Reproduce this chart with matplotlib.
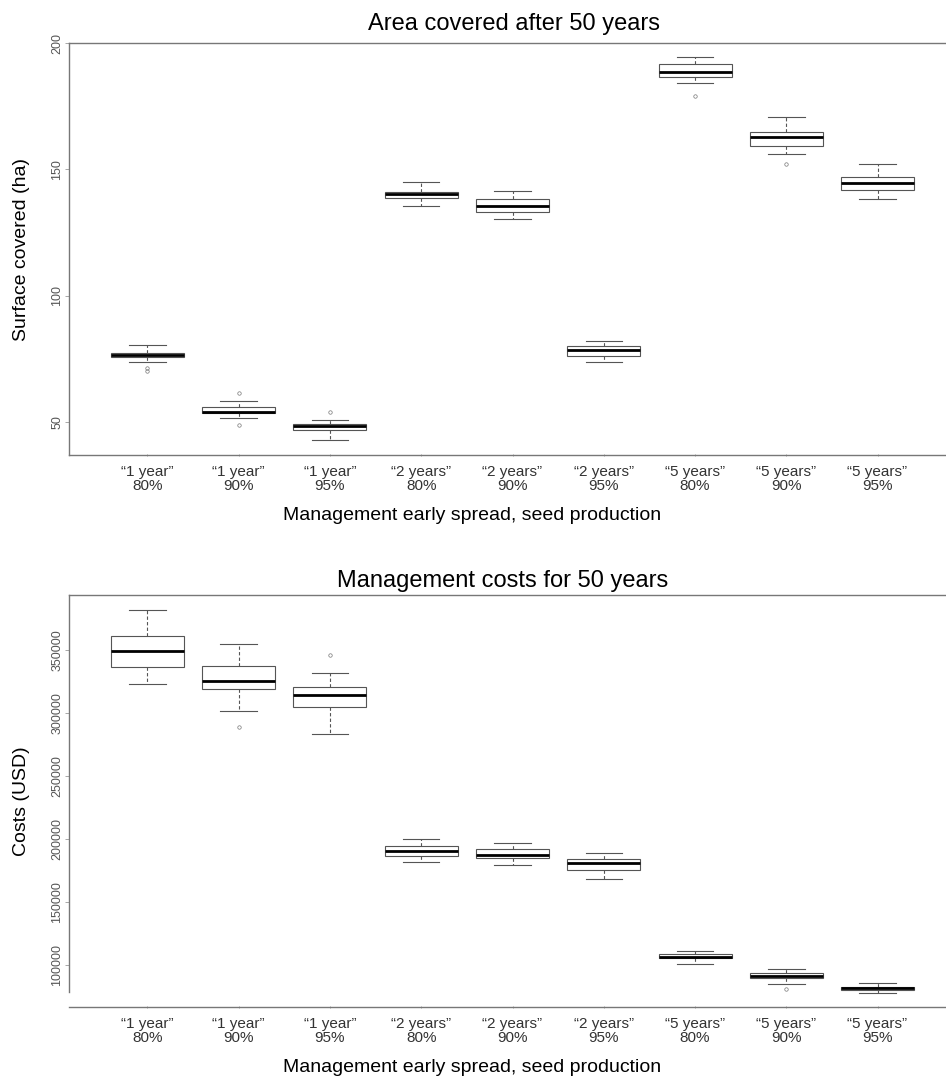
import matplotlib
matplotlib.use("Agg")
import matplotlib.pyplot as plt

plt.rcParams['font.family'] = ['Liberation Sans', 'DejaVu Sans']

# group labels (management duration, seed production reduction)
groups = ['“1 year”\n80%', '“1 year”\n90%', '“1 year”\n95%',
          '“2 years”\n80%', '“2 years”\n90%', '“2 years”\n95%',
          '“5 years”\n80%', '“5 years”\n90%', '“5 years”\n95%']

# area covered after 50 years (ha), five number summaries
area_lo = [73.9, 51.5, 42.9, 135.5, 130.3, 73.9, 184.0, 155.9, 138.1]
area_q1 = [75.8, 53.4, 46.8, 138.5, 133.2, 76.1, 186.6, 159.2, 141.8]
area_med = [76.6, 54.1, 48.3, 140.2, 135.6, 78.5, 188.4, 162.9, 144.7]
area_q3 = [77.4, 55.8, 49.1, 141.1, 138.1, 80.2, 191.7, 164.9, 147.1]
area_hi = [80.5, 58.4, 50.8, 145.1, 141.5, 82.2, 194.6, 170.8, 152.1]
area_out = [[70.0, 71.5], [48.8, 61.5], [54.1], [], [], [], [179.0], [152.1], []]

# management costs for 50 years (USD)
cost_lo = [322800, 301800, 283100, 181700, 179400, 168300, 100800, 85300, 78200]
cost_q1 = [336700, 318800, 305000, 186500, 185300, 175400, 105200, 89700, 80200]
cost_med = [349200, 325400, 314300, 190500, 187700, 181000, 106700, 91300, 81700]
cost_q3 = [361100, 337300, 320900, 194400, 192100, 184100, 109100, 93700, 82900]
cost_hi = [381700, 354800, 331500, 200000, 196800, 189300, 111100, 96800, 86100]
cost_out = [[], [289100], [346000], [], [], [], [], [81000], []]


def make_stats(lo, q1, med, q3, hi, out):
    stats = []
    for i in range(len(groups)):
        stats.append(dict(whislo=lo[i], q1=q1[i], med=med[i], q3=q3[i],
                          whishi=hi[i], fliers=out[i]))
    return stats


def draw_panel(ax, stats, title, title_x, title_pad, ylabel, yticks, ylim):
    ax.bxp(stats, positions=range(1, len(groups) + 1), widths=0.8,
           patch_artist=True, shownotches=False,
           boxprops=dict(facecolor='white', edgecolor='#555555', linewidth=0.8),
           medianprops=dict(color='black', linewidth=2.0),
           whiskerprops=dict(color='#555555', linewidth=0.8, linestyle=(0, (3, 2))),
           capprops=dict(color='#555555', linewidth=0.8),
           capwidths=0.4,
           flierprops=dict(marker='o', markersize=2.5, markerfacecolor='none',
                           markeredgecolor='#777777', markeredgewidth=0.5))
    ax.set_xlim(0.14, 9.86)
    ax.set_ylim(*ylim)
    ax.set_xticks(range(1, len(groups) + 1))
    ax.set_xticklabels(groups, fontsize=11, color='#333333', linespacing=1.0)
    ax.set_yticks(yticks)
    ax.set_yticklabels([str(v) for v in yticks], fontsize=9, color='#555555')
    ax.tick_params(axis='y', labelrotation=90, length=3, width=0.6,
                   color='#999999', pad=1)
    ax.tick_params(axis='x', length=2, width=0.6, color='#999999', pad=6,
                   direction='inout')
    for lbl in ax.get_yticklabels():
        lbl.set_va('center')
    ax.spines['right'].set_visible(False)
    for s in ['top', 'left', 'bottom']:
        ax.spines[s].set_color('#777777')
        ax.spines[s].set_linewidth(1.0)
    ax.set_title(title, fontsize=17, x=title_x, pad=title_pad)
    ax.set_ylabel(ylabel, fontsize=14)
    ax.yaxis.set_label_coords(-0.044, 0.5)
    ax.set_xlabel('Management early spread, seed production', fontsize=14)
    ax.xaxis.set_label_coords(0.454, -0.126)
    ax.xaxis.label.set_va('top')


fig = plt.figure(figsize=(9.46, 10.85), dpi=100)
W, H = 946.0, 1085.0
ax1 = fig.add_axes([69 / W, 1 - 455 / H, 887 / W, 412 / H])
ax2 = fig.add_axes([69 / W, 1 - 1007 / H, 887 / W, 412 / H])

draw_panel(ax1, make_stats(area_lo, area_q1, area_med, area_q3, area_hi, area_out),
           'Area covered after 50 years', 0.502, 9.4, 'Surface covered (ha)',
           [50, 100, 150, 200], (36.9, 200.0))
draw_panel(ax2, make_stats(cost_lo, cost_q1, cost_med, cost_q3, cost_hi, cost_out),
           'Management costs for 50 years', 0.489, 5.8, 'Costs (USD)',
           [100000, 150000, 200000, 250000, 300000, 350000], (66700, 393650))
ax2.spines['left'].set_bounds(78500, 393650)

fig.savefig('out.png', dpi=100, facecolor='white')
